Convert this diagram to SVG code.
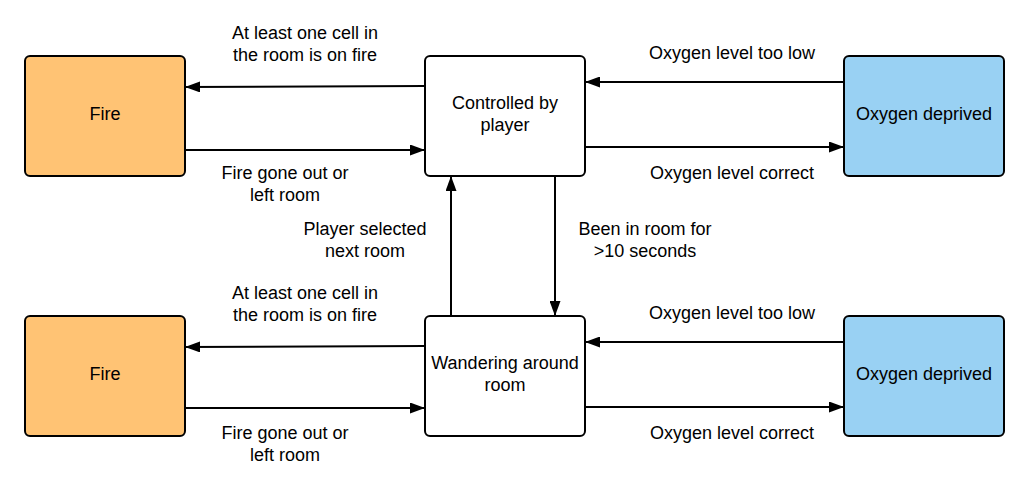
<svg xmlns="http://www.w3.org/2000/svg" width="1032" height="481" viewBox="0 0 1032 481">
<defs>
<style>
.box{stroke:#000;stroke-width:2}
.fire{fill:#FFC374}
.oxy{fill:#99D1F3}
.ctl{fill:#fff}
text{font-family:"Liberation Sans",Arial,sans-serif;font-size:18px;fill:#000;text-anchor:middle}
.c line{stroke:#000;stroke-width:2;marker-end:url(#ah)}
</style>
<marker id="ah" viewBox="0 0 15 11" refX="15" refY="5.5" markerWidth="15" markerHeight="11" markerUnits="userSpaceOnUse" orient="auto">
<path d="M0,0 L15,5.5 L0,11 Z" fill="#000"/>
</marker>
</defs>
<rect width="1032" height="481" fill="#fff"/>
<g id="fire1"><rect class="box fire" x="25" y="56" width="160" height="120" rx="5"/><text x="105" y="120">Fire</text></g>
<g id="controlled"><rect class="box ctl" x="425" y="56" width="160" height="120" rx="5"/><text x="505" y="109">Controlled by</text><text x="505" y="131">player</text></g>
<g id="oxy1"><rect class="box oxy" x="844" y="56" width="160" height="120" rx="5"/><text x="924" y="120">Oxygen deprived</text></g>
<g id="fire2"><rect class="box fire" x="25" y="316" width="160" height="120" rx="5"/><text x="105" y="380">Fire</text></g>
<g id="wandering"><rect class="box ctl" x="425" y="316" width="160" height="120" rx="5"/><text x="505" y="369">Wandering around</text><text x="505" y="391">room</text></g>
<g id="oxy2"><rect class="box oxy" x="844" y="316" width="160" height="120" rx="5"/><text x="924" y="380">Oxygen deprived</text></g>
<g id="connectors" class="c">
<line x1="425" y1="86" x2="185" y2="87"/>
<line x1="185" y1="150" x2="425" y2="150"/>
<line x1="844" y1="82" x2="585" y2="82"/>
<line x1="585" y1="147" x2="844" y2="147"/>
<line x1="451" y1="316" x2="451" y2="176"/>
<line x1="555" y1="176" x2="555" y2="316"/>
<line x1="425" y1="346" x2="185" y2="347"/>
<line x1="185" y1="408" x2="425" y2="408"/>
<line x1="844" y1="342" x2="585" y2="342"/>
<line x1="585" y1="407" x2="844" y2="407"/>
</g>
<g id="labels">
<text x="305" y="39">At least one cell in</text><text x="305" y="61">the room is on fire</text>
<text x="285" y="179">Fire gone out or</text><text x="285" y="201">left room</text>
<text x="732" y="59">Oxygen level too low</text>
<text x="732" y="179">Oxygen level correct</text>
<text x="365" y="235">Player selected</text><text x="365" y="257">next room</text>
<text x="645" y="235">Been in room for</text><text x="645" y="257">&gt;10 seconds</text>
<text x="305" y="299">At least one cell in</text><text x="305" y="321">the room is on fire</text>
<text x="285" y="439">Fire gone out or</text><text x="285" y="461">left room</text>
<text x="732" y="319">Oxygen level too low</text>
<text x="732" y="439">Oxygen level correct</text>
</g>
</svg>
